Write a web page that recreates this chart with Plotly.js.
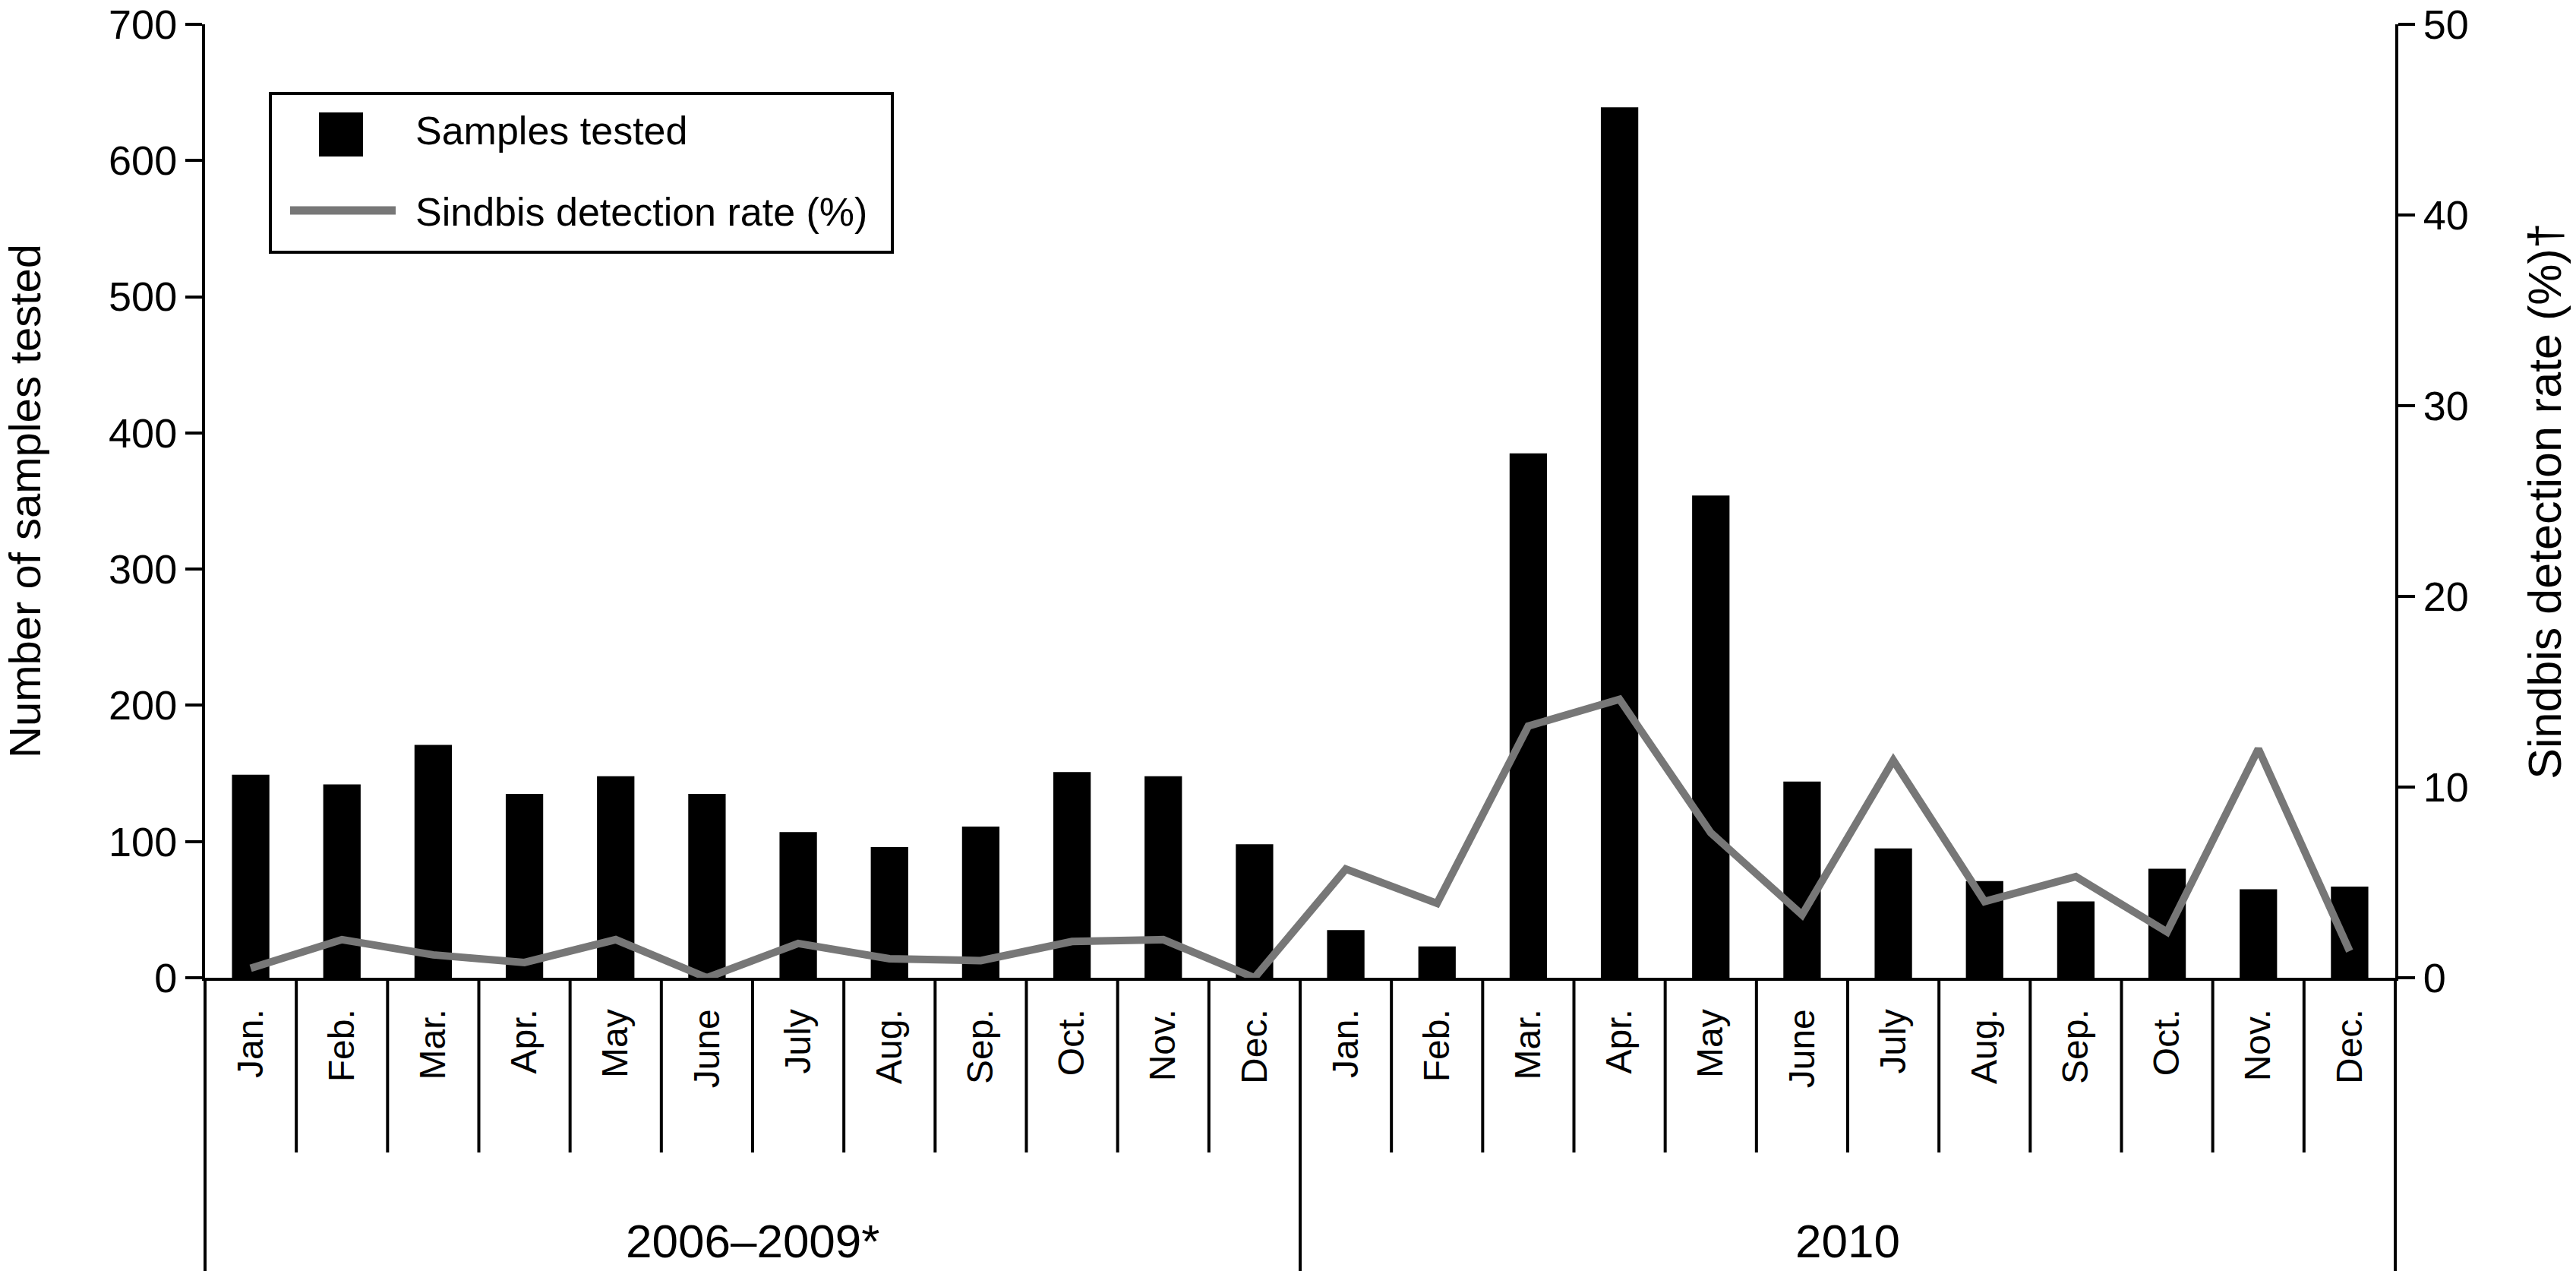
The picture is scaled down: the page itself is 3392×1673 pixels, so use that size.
<!DOCTYPE html>
<html>
<head>
<meta charset="utf-8">
<script src="https://cdn.plot.ly/plotly-3.0.1.min.js"></script>
<style>html,body{margin:0;padding:0;background:#fff;}#chart{width:3392px;height:1673px;}</style>
</head>
<body>
<div id="chart"></div>
<script>
// ---- data ----
const months = ["Jan.","Feb.","Mar.","Apr.","May","June","July","Aug.","Sep.","Oct.","Nov.","Dec.",
                "Jan.","Feb.","Mar.","Apr.","May","June","July","Aug.","Sep.","Oct.","Nov.","Dec."];
const periods = ["2006\u20132009*","2010"];
const samplesTested = [149,142,171,135,148,135,107,96,111,151,148,98,
                       35,23,385,639,354,144,95,71,56,80,65,67];
const detectionRate = [0.5,2.0,1.2,0.8,2.0,0,1.8,1.0,0.9,1.9,2.0,0,
                       5.7,3.9,13.2,14.6,7.6,3.3,11.4,4.0,5.3,2.4,12.0,1.4];
const yLeftTicks = [0,100,200,300,400,500,600,700];
const yRightTicks = [0,10,20,30,40,50];

// ---- layout geometry ----
const W = 3392, H = 1673;
const L = 270, R = 3154, T = 32, B = 1287;
const px = x => (x - L) / (R - L);
const py = y => (B - y) / (B - T);

const NARROW = "Liberation Sans Narrow, Arial Narrow, Liberation Sans, sans-serif";
const REG = "Liberation Sans, Arial, Helvetica, sans-serif";

const xIdx = months.map((_, i) => i);
const N = months.length;
const perGroup = N / periods.length;

const traces = [
  {
    type: "bar", name: "Samples tested",
    x: xIdx, y: samplesTested,
    marker: {color: "#000000", line: {width: 0}},
    showlegend: false, hoverinfo: "skip"
  },
  {
    type: "scatter", mode: "lines", name: "Sindbis detection rate (%)",
    x: xIdx, y: detectionRate, yaxis: "y2",
    line: {color: "#777777", width: 10},
    showlegend: false, hoverinfo: "skip"
  }
];

const shapes = [];
// month separators
for (let k = 1; k < N; k++) {
  const isGroup = (k % perGroup === 0);
  shapes.push({
    type: "line", xref: "paper", yref: "paper",
    x0: k / N, x1: k / N, y0: 0, y1: isGroup ? py(H) : py(1517),
    line: {color: "#000", width: 4}
  });
}
// outer group boundaries
[0, N].forEach(k => shapes.push({
  type: "line", xref: "paper", yref: "paper",
  x0: k / N, x1: k / N, y0: 0, y1: py(H),
  line: {color: "#000", width: 4}
}));
// legend box
shapes.push({type: "rect", xref: "paper", yref: "paper",
  x0: px(356), x1: px(1175), y0: py(332), y1: py(123),
  line: {color: "#000", width: 4}, fillcolor: "rgba(255,255,255,1)"});
shapes.push({type: "rect", xref: "paper", yref: "paper",
  x0: px(420), x1: px(478), y0: py(206), y1: py(148),
  line: {width: 0}, fillcolor: "#000"});
shapes.push({type: "line", xref: "paper", yref: "paper",
  x0: px(382), x1: px(521), y0: py(277), y1: py(277),
  line: {color: "#777777", width: 11}});

const annotations = [];
periods.forEach((p, g) => annotations.push({
  text: p, xref: "paper", yref: "paper",
  x: (g * perGroup + perGroup / 2) / N, y: py(1633),
  xanchor: "center", yanchor: "middle", showarrow: false,
  font: {family: REG, size: 62, color: "#000"}
}));
annotations.push({text: traces[0].name, xref: "paper", yref: "paper",
  x: px(545), y: py(172), xanchor: "left", yanchor: "middle", showarrow: false,
  font: {family: REG, size: 52, color: "#000"}});
annotations.push({text: traces[1].name, xref: "paper", yref: "paper",
  x: px(545), y: py(279), xanchor: "left", yanchor: "middle", showarrow: false,
  font: {family: REG, size: 52, color: "#000"}});

const axisCommon = {
  showgrid: false, zeroline: false, showline: true,
  linecolor: "#000", linewidth: 4,
  ticks: "outside", ticklen: 22, tickwidth: 4, tickcolor: "#000",
  tickfont: {family: NARROW, size: 54, color: "#000"}
};

const layout = {
  width: W, height: H,
  margin: {l: L, r: W - R, t: T, b: H - B, pad: 0},
  paper_bgcolor: "#fff", plot_bgcolor: "#fff",
  bargap: 0.59,
  showlegend: false,
  xaxis: {
    range: [-0.5, N - 0.5],
    tickmode: "array", tickvals: xIdx, ticktext: months,
    tickangle: -90, ticks: "", showgrid: false, zeroline: false,
    showline: true, linecolor: "#000", linewidth: 4,
    tickfont: {family: REG, size: 48, color: "#000"},
    ticklabelstandoff: 18, fixedrange: true
  },
  yaxis: Object.assign({}, axisCommon, {
    range: [0, 700], tickmode: "array", tickvals: yLeftTicks,
    title: {text: "Number of samples tested", standoff: 92,
            font: {family: NARROW, size: 58, color: "#000"}}
  }),
  yaxis2: Object.assign({}, axisCommon, {
    range: [0, 50], tickmode: "array", tickvals: yRightTicks,
    overlaying: "y", side: "right",
    title: {text: "Sindbis detection rate (%)\u2020", standoff: 80,
            font: {family: NARROW, size: 61, color: "#000"}}
  }),
  shapes: shapes,
  annotations: annotations
};

Plotly.newPlot("chart", traces, layout, {displayModeBar: false, staticPlot: true});
</script>
</body>
</html>
